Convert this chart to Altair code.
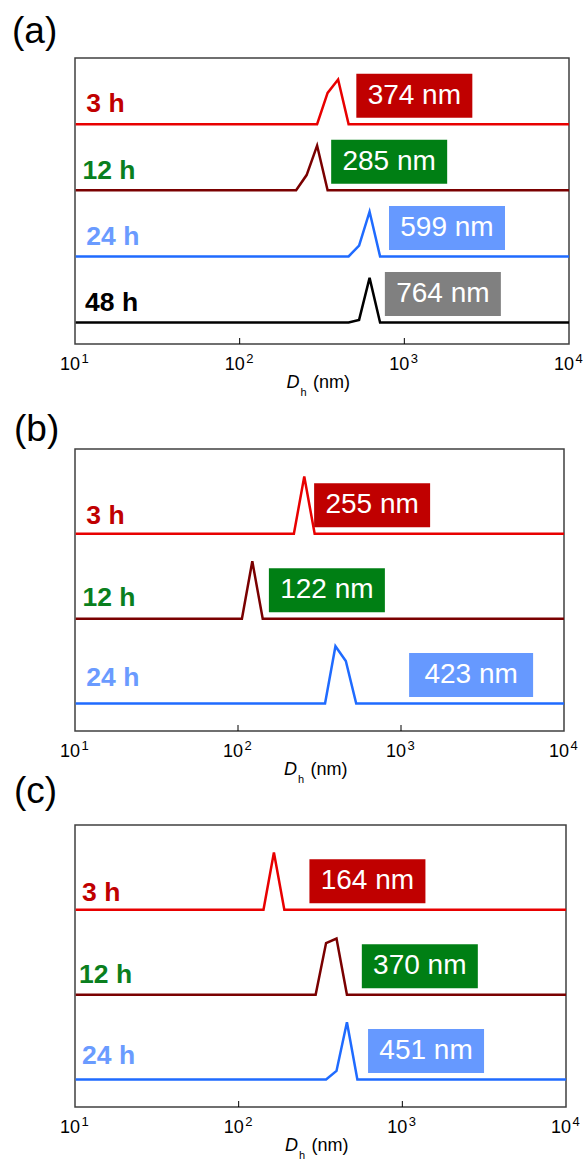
import altair as alt
import pandas as pd

FONT = "Liberation Sans"

# ---- data ----
names = ["3 h", "12 h", "24 h", "48 h"]
line_colors = ["#e80000", "#7a0000", "#1f6bff", "#000000"]
label_colors = ["#c00000", "#0a7f1e", "#6a9bff", "#000000"]
box_colors = ["#c00000", "#007f14", "#6699ff", "#808080"]

# panel (a)
a_3h_d = [10.1, 295.3, 342.0, 396.1, 458.7, 10000]
a_3h_i = [0, 0, 0.70, 1.0, 0, 0]
a_12h_d = [10.1, 220.2, 255.0, 295.3, 342.0, 10000]
a_12h_i = [0, 0, 0.34, 1.0, 0, 0]
a_24h_d = [10.1, 458.7, 531.2, 615.1, 712.4, 10000]
a_24h_i = [0, 0, 0.24, 1.0, 0, 0]
a_48h_d = [10.1, 458.7, 531.2, 615.1, 712.4, 10000]
a_48h_i = [0, 0, 0.06, 1.0, 0, 0]
a_box_text = ["374 nm", "285 nm", "599 nm", "764 nm"]

# panel (b)
b_3h_d = [10.1, 220.2, 255.0, 295.3, 10000]
b_3h_i = [0, 0, 1.0, 0, 0]
b_12h_d = [10.1, 105.7, 122.4, 141.8, 10000]
b_12h_i = [0, 0, 1.0, 0, 0]
b_24h_d = [10.1, 342.0, 396.1, 458.7, 531.2, 10000]
b_24h_i = [0, 0, 1.0, 0.74, 0, 0]
b_box_text = ["255 nm", "122 nm", "423 nm"]

# panel (c)
c_3h_d = [10.1, 141.8, 164.2, 190.1, 10000]
c_3h_i = [0, 0, 1.0, 0, 0]
c_12h_d = [10.1, 295.3, 342.0, 396.1, 458.7, 10000]
c_12h_i = [0, 0, 0.90, 0.98, 0, 0]
c_24h_d = [10.1, 342.0, 396.1, 458.7, 531.2, 10000]
c_24h_i = [0, 0, 0.15, 1.0, 0, 0]
c_box_text = ["164 nm", "370 nm", "451 nm"]

decades = [10, 100, 1000, 10000]
exponents = ["1", "2", "3", "4"]

# ---- layout (annotation placement) ----
BOTTOM = 0.48
SPACING = 1.48

panels = [
    dict(tag="(a)", width=494, height=286, tag_xy=(-63, -15),
         series=[(a_3h_d, a_3h_i), (a_12h_d, a_12h_i), (a_24h_d, a_24h_i), (a_48h_d, a_48h_i)],
         box_text=a_box_text, box_nm=[1150, 809, 1816, 1714], box_w=[116, 116, 116, 116],
         lab_dx=[11.3, 7.5, 11.3, 10.1], lab_lift=[12.3, 11.3, 11.0, 11.3], anchor=True),
    dict(tag="(b)", width=489, height=282, tag_xy=(-61, -8),
         series=[(b_3h_d, b_3h_i), (b_12h_d, b_12h_i), (b_24h_d, b_24h_i)],
         box_text=b_box_text, box_nm=[665, 351, 2692], box_w=[116, 116, 124],
         lab_dx=[11.3, 7.5, 11.3], lab_lift=[10.0, 12.6, 17.0], anchor=False),
    dict(tag="(c)", width=491, height=282, tag_xy=(-61, -22),
         series=[(c_3h_d, c_3h_i), (c_12h_d, c_12h_i), (c_24h_d, c_24h_i)],
         box_text=c_box_text, box_nm=[612, 1279, 1396], box_w=[116, 116, 116],
         lab_dx=[7.1, 4.1, 7.1], lab_lift=[9.3, 11.6, 15.0], anchor=False),
]

BOX_H = 44
BOX_LIFT = 28.5


def make_panel(p):
    W, H = p["width"], p["height"]
    n = len(p["series"])
    ymax = BOTTOM + n * SPACING
    ppu = H / ymax
    ppd = W / 3.0
    xs = alt.Scale(type="log", domain=[10, 10000], nice=False)
    ys = alt.Scale(domain=[0, ymax], nice=False, zero=False)

    line_rows, lab_rows, box_rows = [], [], []
    for k, (dl, il) in enumerate(p["series"]):
        off = BOTTOM + (n - 1 - k) * SPACING
        for d, v in zip(dl, il):
            line_rows.append(dict(series=names[k], d=d, y=off + v, col=line_colors[k]))
        lab_rows.append(dict(t=names[k], x=10 * 10 ** (p["lab_dx"][k] / ppd),
                             y=off + p["lab_lift"][k] / ppu, col=label_colors[k]))
        c = p["box_nm"][k]
        half = p["box_w"][k] / 2 / ppd
        box_rows.append(dict(t=p["box_text"][k], x=c, x1=c / 10 ** half, x2=c * 10 ** half,
                             y=off + BOX_LIFT / ppu,
                             y1=off + (BOX_LIFT - BOX_H / 2) / ppu,
                             y2=off + (BOX_LIFT + BOX_H / 2) / ppu, col=box_colors[k]))

    X = lambda f: alt.X(f, scale=xs, axis=None)
    Y = lambda f: alt.Y(f, scale=ys, axis=None)

    lines = alt.Chart(pd.DataFrame(line_rows)).mark_line(strokeWidth=2.5).encode(
        x=X("d:Q"), y=Y("y:Q"), detail="series:N",
        color=alt.Color("col:N", scale=None))
    labels = alt.Chart(pd.DataFrame(lab_rows)).mark_text(
        align="left", baseline="alphabetic", fontSize=26.5, fontWeight="bold").encode(
        x=X("x:Q"), y=Y("y:Q"), text="t:N", color=alt.Color("col:N", scale=None))
    bdf = pd.DataFrame(box_rows)
    boxes = alt.Chart(bdf).mark_rect().encode(
        x=X("x1:Q"), x2="x2:Q", y=Y("y1:Q"), y2="y2:Q",
        color=alt.Color("col:N", scale=None))
    btext = alt.Chart(bdf).mark_text(
        align="center", baseline="middle", fontSize=28, color="white").encode(
        x=X("x:Q"), y=Y("y:Q"), text="t:N")

    tdf = pd.DataFrame(dict(d=decades, base=["10"] * 4, e=exponents))
    ticks = alt.Chart(tdf[(tdf.d > 10) & (tdf.d < 10000)]).mark_rule(
        color="black", strokeWidth=1).encode(
        x=X("d:Q"), y=alt.value(H), y2=alt.value(H - 6))
    tl = alt.Chart(tdf).mark_text(align="right", baseline="alphabetic", dx=5,
                                  fontSize=18, color="black").encode(
        x=X("d:Q"), y=alt.value(H + 26), text="base:N")
    te = alt.Chart(tdf).mark_text(align="left", baseline="alphabetic", dx=6.5,
                                  fontSize=13, color="black").encode(
        x=X("d:Q"), y=alt.value(H + 19), text="e:N")

    cx = W / 2
    one = pd.DataFrame(dict(t=["D"]))
    tD = alt.Chart(one).mark_text(align="left", baseline="alphabetic", fontSize=18,
                                  fontStyle="italic", color="black").encode(
        x=alt.value(cx - 35.5), y=alt.value(H + 44), text=alt.value("D"))
    th = alt.Chart(one).mark_text(align="left", baseline="alphabetic", fontSize=11,
                                  color="black").encode(
        x=alt.value(cx - 21.5), y=alt.value(H + 52), text=alt.value("h"))
    tnm = alt.Chart(one).mark_text(align="left", baseline="alphabetic", fontSize=18,
                                   color="black").encode(
        x=alt.value(cx - 9), y=alt.value(H + 44), text=alt.value("(nm)"))
    tag = alt.Chart(one).mark_text(align="left", baseline="alphabetic", fontSize=37,
                                   color="black").encode(
        x=alt.value(p["tag_xy"][0]), y=alt.value(p["tag_xy"][1]), text=alt.value(p["tag"]))

    layers = [lines, boxes, btext, labels, ticks, tl, te, tD, th, tnm, tag]
    if p["anchor"]:
        anchor = alt.Chart(one).mark_rect(opacity=0).encode(
            x=alt.value(-74), x2=alt.value(-73), y=alt.value(-57), y2=alt.value(-56))
        layers.append(anchor)
    return alt.layer(*layers).properties(width=W, height=H)


pa, pb, pc = [make_panel(p) for p in panels]
chart = alt.vconcat(
    pa,
    alt.vconcat(pb, pc, spacing=94, bounds="flush"),
    spacing=105, bounds="flush",
).properties(
    padding={"left": 0, "top": 0, "right": 0, "bottom": 0}
).configure_view(
    stroke="#404040", strokeWidth=1.5
).configure_text(font=FONT)

chart.save("out.html", embed_options={"renderer": "svg", "actions": False})
